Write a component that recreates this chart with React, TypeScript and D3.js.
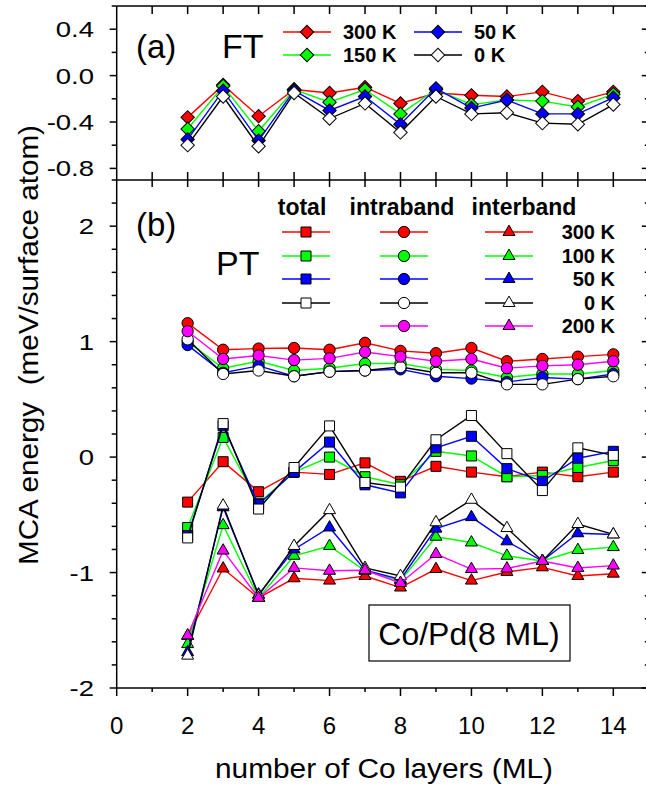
import React from "react";
import * as d3 from "d3";

// number of Co layers
const layers = [2, 3, 4, 5, 6, 7, 8, 9, 10, 11, 12, 13, 14];

// (a) FT
const ft300 = [-0.36, -0.08, -0.35, -0.12, -0.15, -0.1, -0.24, -0.15, -0.17, -0.18, -0.14, -0.22, -0.14];
const ft150 = [-0.46, -0.09, -0.48, -0.12, -0.23, -0.12, -0.33, -0.12, -0.25, -0.21, -0.22, -0.27, -0.16];
const ft50 = [-0.55, -0.13, -0.56, -0.13, -0.3, -0.18, -0.42, -0.11, -0.28, -0.21, -0.33, -0.33, -0.19];
const ft0 = [-0.6, -0.18, -0.61, -0.15, -0.37, -0.24, -0.49, -0.18, -0.33, -0.32, -0.41, -0.42, -0.25];

// (b) PT total
const tot300 = [-0.39, -0.04, -0.3, -0.13, -0.15, -0.05, -0.21, -0.08, -0.13, -0.17, -0.13, -0.17, -0.13];
const tot100 = [-0.61, 0.17, -0.4, -0.13, 0.0, -0.17, -0.24, 0.05, 0.01, -0.17, -0.16, -0.09, -0.03];
const tot50 = [-0.68, 0.27, -0.41, -0.13, 0.13, -0.24, -0.31, 0.08, 0.18, -0.1, -0.21, -0.01, 0.05];
const tot0 = [-0.7, 0.29, -0.45, -0.09, 0.27, -0.22, -0.26, 0.15, 0.36, 0.03, -0.29, 0.08, 0.015];

// (b) PT intraband
const in300 = [1.16, 0.93, 0.94, 0.945, 0.93, 0.99, 0.92, 0.9, 0.945, 0.83, 0.85, 0.87, 0.89];
const in100 = [1.0, 0.77, 0.83, 0.75, 0.77, 0.81, 0.81, 0.76, 0.75, 0.69, 0.72, 0.72, 0.75];
const in50 = [0.97, 0.73, 0.79, 0.7, 0.74, 0.75, 0.76, 0.7, 0.68, 0.65, 0.69, 0.675, 0.72];
const in0 = [1.02, 0.72, 0.75, 0.7, 0.74, 0.75, 0.78, 0.73, 0.73, 0.63, 0.63, 0.675, 0.7];
const in200 = [1.09, 0.85, 0.88, 0.84, 0.855, 0.91, 0.87, 0.83, 0.85, 0.77, 0.79, 0.8, 0.83];

// (b) PT interband
const ib300 = [-1.55, -0.965, -1.22, -1.05, -1.07, -1.03, -1.13, -0.97, -1.07, -0.995, -0.955, -1.03, -1.01];
const ib100 = [-1.62, -0.59, -1.22, -0.855, -0.77, -0.985, -1.07, -0.69, -0.74, -0.855, -0.9, -0.805, -0.78];
const ib50 = [-1.69, -0.435, -1.19, -0.8, -0.61, -0.98, -1.06, -0.62, -0.52, -0.73, -0.9, -0.66, -0.67];
const ib0 = [-1.72, -0.42, -1.2, -0.77, -0.46, -0.96, -1.03, -0.565, -0.37, -0.615, -0.9, -0.58, -0.67];
const ib200 = [-1.545, -0.81, -1.22, -0.96, -0.985, -0.98, -1.09, -0.84, -0.97, -0.965, -0.9, -0.96, -0.94];

const xTicks = [0, 2, 4, 6, 8, 10, 12, 14];
const aTicks = [0.4, 0.0, -0.4, -0.8];
const aTickLabels = ["0.4", "0.0", "-0.4", "-0.8"];
const bTicks = [2, 1, 0, -1, -2];

const RED = "#ff0000";
const GREEN = "#00ff00";
const BLUE = "#0000ff";
const BLACK = "#000000";
const MAGENTA = "#ff00ff";

const FONT = "'Liberation Sans', Arial, sans-serif";

const W = 646;
const H = 792;
const left = 116.7;
const right = 648.8;
const topA = 6;
const mid = 180;
const bottom = 688;

const x = d3.scaleLinear().domain([0, 15]).range([left, right]);
const yA = d3.scaleLinear().domain([-0.9, 0.6]).range([mid, topA]);
const yB = d3.scaleLinear().domain([-2, 2.4]).range([bottom, mid]);

const shapes = {
  square: d3.symbol(d3.symbolSquare, 100)(),
  circle: d3.symbol(d3.symbolCircle, 100)(),
  triangle: d3.symbol(d3.symbolTriangle, 62)(),
  diamond: d3.symbol(d3.symbolSquare, 90)(),
};

const Marker = ({ cx, cy, shape, fill }) => (
  <path
    d={shapes[shape]}
    transform={`translate(${cx},${cy})${shape === "diamond" ? " rotate(45)" : ""}`}
    fill={fill === BLACK ? "#fff" : fill}
    stroke="#000"
    strokeWidth={1}
  />
);

const Series = ({ values, y, color, shape }) => {
  const line = d3
    .line()
    .x((d, i) => x(layers[i]))
    .y((d) => y(d));
  return (
    <g>
      <path d={line(values)} fill="none" stroke={color} strokeWidth={1.4} />
      {values.map((v, i) => (
        <Marker key={i} cx={x(layers[i])} cy={y(v)} shape={shape} fill={color} />
      ))}
    </g>
  );
};

const LegendItem = ({ x1, x2, y, color, shape }) => (
  <g>
    <line x1={x1} x2={x2} y1={y} y2={y} stroke={color} strokeWidth={1.4} />
    <Marker cx={(x1 + x2) / 2} cy={y} shape={shape} fill={color} />
  </g>
);

// wide y tick label, right-aligned at x=94
const YLabel = ({ y, children }) => (
  <text
    transform={`translate(94,${y + 8}) scale(1.25,1)`}
    textAnchor="end"
    fontSize={22}
  >
    {children}
  </text>
);

const App = () => {
  const intTicks = d3.range(1, 15);
  const minorA = [0.6, 0.2, -0.2, -0.6];
  const minorB = d3.range(-1.8, 2.41, 0.2).filter((v) => Math.abs(v - Math.round(v)) > 0.01);
  const ax = { stroke: "#000", strokeWidth: 1.5 };

  const ftSeries = [
    { v: ft300, c: RED },
    { v: ft150, c: GREEN },
    { v: ft50, c: BLUE },
    { v: ft0, c: BLACK },
  ];
  const totSeries = [
    { v: tot300, c: RED },
    { v: tot100, c: GREEN },
    { v: tot50, c: BLUE },
    { v: tot0, c: BLACK },
  ];
  const inSeries = [
    { v: in300, c: RED },
    { v: in100, c: GREEN },
    { v: in50, c: BLUE },
    { v: in0, c: BLACK },
    { v: in200, c: MAGENTA },
  ];
  const ibSeries = [
    { v: ib300, c: RED },
    { v: ib100, c: GREEN },
    { v: ib50, c: BLUE },
    { v: ib0, c: BLACK },
    { v: ib200, c: MAGENTA },
  ];

  const rowsB = [
    { y: 232, c: RED, t: "300 K", total: true },
    { y: 256, c: GREEN, t: "100 K", total: true },
    { y: 279, c: BLUE, t: "50 K", total: true },
    { y: 303, c: BLACK, t: "0 K", total: true },
    { y: 326, c: MAGENTA, t: "200 K", total: false },
  ];

  return (
    <svg
      width={W}
      height={H}
      style={{ position: "absolute", left: 0, top: 0, background: "white" }}
      fontFamily={FONT}
    >
      {/* frame */}
      <line x1={left} x2={left} y1={topA} y2={bottom} {...ax} />
      <line x1={left} x2={W} y1={topA} y2={topA} {...ax} />
      <line x1={left} x2={W} y1={mid} y2={mid} {...ax} />
      <line x1={left} x2={W} y1={bottom} y2={bottom} {...ax} />
      <line x1={right} x2={right} y1={topA} y2={bottom} {...ax} />

      {/* x ticks */}
      {intTicks.map((t) => (
        <g key={t}>
          <line x1={x(t)} x2={x(t)} y1={topA} y2={topA + 8} {...ax} />
          <line x1={x(t)} x2={x(t)} y1={mid} y2={mid - 8} {...ax} />
          <line x1={x(t)} x2={x(t)} y1={mid} y2={mid + 7} {...ax} />
          <line x1={x(t)} x2={x(t)} y1={bottom} y2={bottom + (t % 2 === 0 ? 8 : 4)} {...ax} />
        </g>
      ))}
      <line x1={x(0)} x2={x(0)} y1={bottom} y2={bottom + 8} {...ax} />
      {xTicks.map((t) => (
        <text key={t} x={x(t)} y={734} textAnchor="middle" fontSize={24}>
          {t}
        </text>
      ))}

      {/* y ticks panel a */}
      {aTicks.map((t, i) => (
        <g key={t}>
          <line x1={left - 7} x2={left} y1={yA(t)} y2={yA(t)} {...ax} />
          <line x1={right - 7} x2={right} y1={yA(t)} y2={yA(t)} {...ax} />
          <YLabel y={yA(t)}>{aTickLabels[i]}</YLabel>
        </g>
      ))}
      {minorA.map((t) => (
        <g key={t}>
          <line x1={left - 5} x2={left} y1={yA(t)} y2={yA(t)} {...ax} />
          <line x1={right - 4} x2={right} y1={yA(t)} y2={yA(t)} {...ax} />
        </g>
      ))}

      {/* y ticks panel b */}
      {bTicks.map((t) => (
        <g key={t}>
          <line x1={left - 7} x2={left} y1={yB(t)} y2={yB(t)} {...ax} />
          <line x1={right - 7} x2={right} y1={yB(t)} y2={yB(t)} {...ax} />
          <YLabel y={yB(t)}>{t}</YLabel>
        </g>
      ))}
      {minorB.map((t) => (
        <g key={t.toFixed(1)}>
          <line x1={left - 5} x2={left} y1={yB(t)} y2={yB(t)} {...ax} />
          <line x1={right - 4} x2={right} y1={yB(t)} y2={yB(t)} {...ax} />
        </g>
      ))}

      {/* axis titles */}
      <text x={384} y={778} textAnchor="middle" fontSize={27} textLength={338} lengthAdjust="spacingAndGlyphs">
        number of Co layers (ML)
      </text>
      <text
        transform="translate(38,345) rotate(-90)"
        textAnchor="middle"
        fontSize={28}
        textLength={440}
        lengthAdjust="spacingAndGlyphs"
        style={{ whiteSpace: "pre" }}
      >
        {"MCA energy  (meV/surface atom)"}
      </text>

      {/* panel a */}
      <text x={136} y={58} fontSize={33}>(a)</text>
      <text x={222} y={58} fontSize={34}>FT</text>
      {ftSeries.map((s, i) => (
        <Series key={i} values={s.v} y={yA} color={s.c} shape="diamond" />
      ))}
      <LegendItem x1={283} x2={331} y={32} color={RED} shape="diamond" />
      <LegendItem x1={283} x2={331} y={55} color={GREEN} shape="diamond" />
      <LegendItem x1={414} x2={462} y={32} color={BLUE} shape="diamond" />
      <LegendItem x1={414} x2={462} y={55} color={BLACK} shape="diamond" />
      <g fontSize={20} fontWeight="bold">
        <text x={343} y={39}>300 K</text>
        <text x={343} y={62}>150 K</text>
        <text x={474} y={39}>50 K</text>
        <text x={474} y={62}>0 K</text>
      </g>

      {/* panel b */}
      <text x={136} y={236} fontSize={33}>(b)</text>
      <text x={216} y={275} fontSize={34}>PT</text>
      {totSeries.map((s, i) => (
        <Series key={"t" + i} values={s.v} y={yB} color={s.c} shape="square" />
      ))}
      {inSeries.map((s, i) => (
        <Series key={"n" + i} values={s.v} y={yB} color={s.c} shape="circle" />
      ))}
      {ibSeries.map((s, i) => (
        <Series key={"b" + i} values={s.v} y={yB} color={s.c} shape="triangle" />
      ))}

      <g fontSize={23} fontWeight="bold" textAnchor="middle">
        <text x={302} y={215}>total</text>
        <text x={402} y={215}>intraband</text>
        <text x={524} y={215}>interband</text>
      </g>
      {rowsB.map((r) => (
        <g key={r.t}>
          {r.total && <LegendItem x1={282} x2={330} y={r.y} color={r.c} shape="square" />}
          <LegendItem x1={380} x2={428} y={r.y} color={r.c} shape="circle" />
          <LegendItem x1={485} x2={533} y={r.y} color={r.c} shape="triangle" />
          <text x={615} y={r.y + 7} textAnchor="end" fontSize={20} fontWeight="bold">
            {r.t}
          </text>
        </g>
      ))}

      {/* label box */}
      <rect x={369} y={605} width={201} height={56} fill="#fff" stroke="#000" strokeWidth={1.2} />
      <text x={469} y={645} textAnchor="middle" fontSize={32}>
        Co/Pd(8 ML)
      </text>
    </svg>
  );
};

export default App;
